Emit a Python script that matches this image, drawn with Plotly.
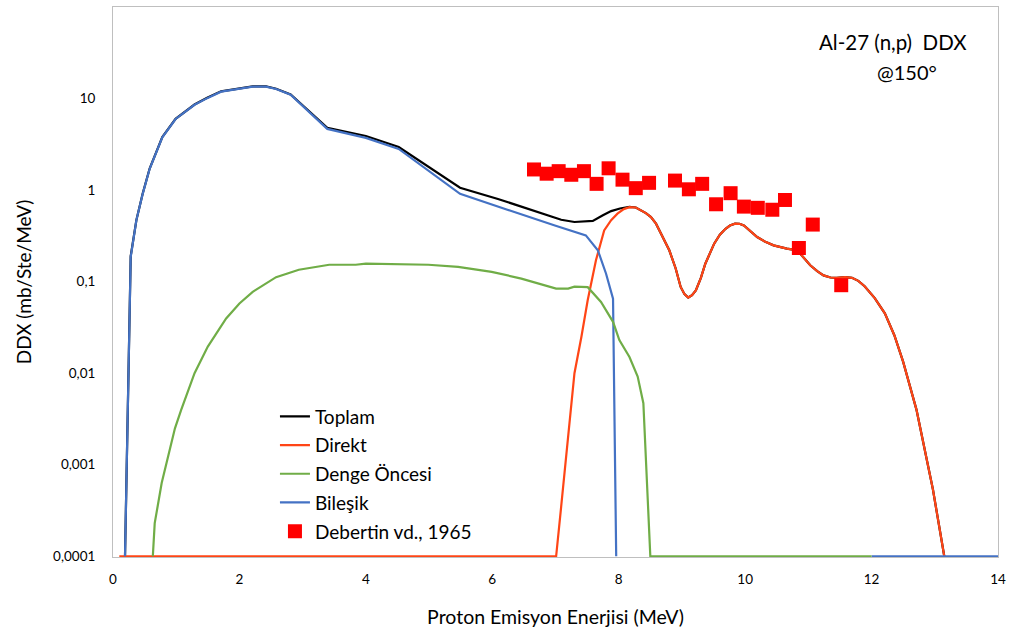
import plotly.graph_objects as go

FLOOR = 1e-4

# Toplam (black)
toplam_x = [0.19, 0.28, 0.37, 0.47, 0.58, 0.78, 0.99, 1.29, 1.49, 1.71, 2.21, 2.42, 2.58, 2.81, 3.39, 4.0, 4.52,
            5.49, 6.09, 6.62, 7.09, 7.30, 7.59, 7.75, 7.88, 8.02, 8.17, 8.27, 8.35, 8.43, 8.51,
            8.59, 8.67, 8.80, 8.90, 8.98, 9.04, 9.10, 9.16, 9.22, 9.30, 9.37, 9.51, 9.60, 9.69, 9.76, 9.84, 9.91,
            9.98, 10.08, 10.19, 10.32, 10.45, 10.66, 10.78, 10.85, 10.94, 11.03, 11.14, 11.24, 11.35, 11.45,
            11.58, 11.69, 11.79, 11.89, 12.05, 12.21, 12.36, 12.5, 12.71, 12.97, 13.15]
toplam_y = [FLOOR, 0.19, 0.47, 0.92, 1.72, 3.8, 6.0, 8.6, 10.2, 12.0, 13.6, 13.6, 12.8, 11.1, 4.8, 3.9, 2.95,
            1.06, 0.80, 0.60, 0.474, 0.448, 0.46, 0.53, 0.59, 0.63, 0.655, 0.645,
            0.60, 0.56, 0.507, 0.43, 0.334, 0.22, 0.14, 0.0875, 0.073, 0.067, 0.071, 0.08, 0.11, 0.157, 0.26,
            0.325, 0.378, 0.41, 0.43, 0.428, 0.41, 0.36, 0.307, 0.272, 0.249, 0.229, 0.222, 0.21, 0.178, 0.151,
            0.13, 0.117, 0.111, 0.11, 0.112, 0.11, 0.102, 0.089, 0.066, 0.045, 0.026, 0.0133, 0.004, 5.4e-4,
            FLOOR]

# Direkt (orange-red)
direkt_x = [0.1, 7.01, 7.09, 7.20, 7.30, 7.41, 7.51, 7.64, 7.77, 7.88, 7.98, 8.08, 8.17, 8.27, 8.35, 8.43, 8.51,
            8.59, 8.67, 8.80, 8.90, 8.98, 9.04, 9.10, 9.16, 9.22, 9.30, 9.37, 9.51, 9.60, 9.69, 9.76, 9.84, 9.91,
            9.98, 10.08, 10.19, 10.32, 10.45, 10.66, 10.78, 10.85, 10.94, 11.03, 11.14, 11.24, 11.35, 11.45,
            11.58, 11.69, 11.79, 11.89, 12.05, 12.21, 12.36, 12.5, 12.71, 12.97, 13.15]
direkt_y = [FLOOR, FLOOR, 3.5e-4, 2.2e-3, 0.01, 0.025, 0.063, 0.171, 0.363, 0.47, 0.552, 0.62, 0.65, 0.645,
            0.60, 0.56, 0.507, 0.43, 0.334, 0.22, 0.14, 0.0875, 0.073, 0.067, 0.071, 0.08, 0.11, 0.157, 0.26,
            0.325, 0.378, 0.41, 0.43, 0.428, 0.41, 0.36, 0.307, 0.272, 0.249, 0.229, 0.222, 0.21, 0.178, 0.151,
            0.13, 0.117, 0.111, 0.11, 0.112, 0.11, 0.102, 0.089, 0.066, 0.045, 0.026, 0.0133, 0.004, 5.4e-4,
            FLOOR]

# Denge Öncesi (green)
denge_x = [0.63, 0.66, 0.77, 0.98, 1.08, 1.29, 1.50, 1.79, 2.0, 2.21, 2.58, 2.94, 3.42, 3.84, 4.0, 4.99, 5.46,
           5.99, 6.46, 7.01, 7.2, 7.30, 7.51, 7.72, 7.91, 8.01, 8.17, 8.30, 8.39, 8.50, 12.0]
denge_y = [FLOOR, 2.3e-4, 6.3e-4, 2.5e-3, 4e-3, 0.01, 0.0195, 0.0396, 0.0577, 0.0773, 0.112, 0.135, 0.153,
           0.153, 0.157, 0.153, 0.145, 0.128, 0.108, 0.084, 0.084, 0.088, 0.087, 0.060, 0.0364, 0.023, 0.015,
           0.0092, 0.0047, FLOOR, FLOOR]

# Bileşik (blue)
bilesik_x = [0.19, 0.28, 0.37, 0.47, 0.58, 0.78, 0.99, 1.29, 1.49, 1.71, 2.21, 2.42, 2.58, 2.81, 3.39, 4.0, 4.52,
             5.49, 6.99, 7.48, 7.67, 7.80, 7.91, 7.96, None, 12.0, 14.0]
bilesik_y = [FLOOR, 0.186, 0.47, 0.91, 1.71, 3.77, 5.98, 8.55, 10.1, 11.9, 13.5, 13.5, 12.7, 11.0, 4.66, 3.72,
             2.82, 0.91, 0.41, 0.32, 0.22, 0.122, 0.065, FLOOR, None, FLOOR, FLOOR]

# Debertin vd., 1965 (experimental)
exp_x = [6.66, 6.86, 7.05, 7.25, 7.45, 7.65, 7.84, 8.06, 8.27, 8.48, 8.89, 9.11, 9.32, 9.54, 9.77, 9.98, 10.2,
         10.43, 10.63, 10.85, 11.07, 11.52]
exp_y = [1.68, 1.51, 1.61, 1.47, 1.61, 1.17, 1.73, 1.30, 1.05, 1.20, 1.27, 1.02, 1.17, 0.70, 0.925, 0.66, 0.64,
         0.61, 0.78, 0.233, 0.42, 0.0914]

y_tickvals = [1e-4, 1e-3, 1e-2, 1e-1, 1, 10]
y_ticktext = ["0,0001", "0,001", "0,01", "0,1", "1", "10"]
x_tickvals = [0, 2, 4, 6, 8, 10, 12, 14]

FONT = "Lato"

fig = go.Figure()
fig.add_trace(go.Scatter(x=toplam_x, y=toplam_y, mode="lines", name="Toplam",
                         line=dict(color="#000000", width=2.2), legendgroup="a", legendrank=1))
fig.add_trace(go.Scatter(x=direkt_x, y=direkt_y, mode="lines", name="Direkt",
                         line=dict(color="#FF4516", width=2.2), legendgroup="b", legendrank=2))
fig.add_trace(go.Scatter(x=bilesik_x, y=bilesik_y, mode="lines", name="Bileşik",
                         line=dict(color="#4472C4", width=2.2), legendgroup="d", legendrank=4))
fig.add_trace(go.Scatter(x=denge_x, y=denge_y, mode="lines", name="Denge Öncesi",
                         line=dict(color="#70AD47", width=2.2), legendgroup="c", legendrank=3))
fig.add_trace(go.Scatter(x=exp_x, y=exp_y, mode="markers", name="Debertin vd., 1965",
                         marker=dict(symbol="square", size=14, color="#FF0000"),
                         legendgroup="e", legendrank=5))

fig.update_layout(
    width=1012, height=635,
    margin=dict(l=113, r=10, t=6, b=78),
    paper_bgcolor="white", plot_bgcolor="white",
    font=dict(family=FONT, size=14, color="#000000"),
    showlegend=True,
    legend=dict(x=0.183, y=0.29, xanchor="left", yanchor="top",
                font=dict(family=FONT, size=19, color="#000000"),
                bgcolor="rgba(0,0,0,0)", itemwidth=30, tracegroupgap=1),
    xaxis=dict(range=[0, 14], tickvals=x_tickvals, showgrid=False, zeroline=False,
               showline=True, mirror=True, linecolor="#BFBFBF", linewidth=1,
               ticks="", ticklabelstandoff=10,
               tickfont=dict(family=FONT, size=13.5, color="#000000"),
               title=dict(text="Proton Emisyon Enerjisi (MeV)", standoff=24,
                          font=dict(family=FONT, size=19.5, color="#000000"))),
    yaxis=dict(type="log", range=[-4.008, 2], tickvals=y_tickvals, ticktext=y_ticktext,
               showgrid=False, zeroline=False,
               showline=True, mirror=True, linecolor="#BFBFBF", linewidth=1,
               ticks="", ticklabelstandoff=14,
               tickfont=dict(family=FONT, size=13.5, color="#000000"),
               title=dict(text="DDX (mb/Ste/MeV)", standoff=16,
                          font=dict(family=FONT, size=19, color="#000000"))),
    annotations=[
        dict(text="Al-27 (n,p)  DDX", xref="paper", yref="paper", x=0.881, y=0.937,
             xanchor="center", yanchor="middle", showarrow=False,
             font=dict(family=FONT, size=20.5, color="#000000")),
        dict(text="@150°", xref="paper", yref="paper", x=0.897, y=0.882,
             xanchor="center", yanchor="middle", showarrow=False,
             font=dict(family=FONT, size=20, color="#000000")),
    ],
)

fig.write_html("out.html")
